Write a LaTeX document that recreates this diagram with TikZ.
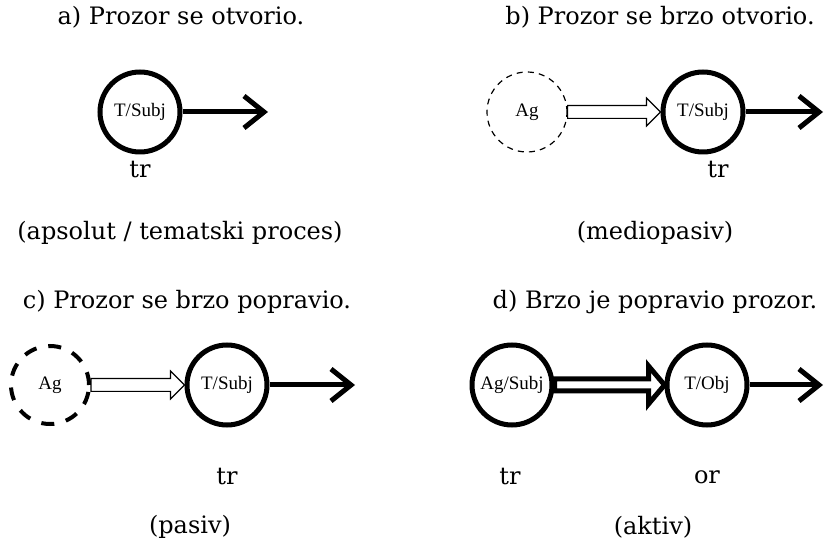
\documentclass[tikz,border=0pt]{standalone}
\usepackage{fontspec}
\setmainfont{DejaVu Serif}
\newfontfamily\rolefont{Liberation Serif}
\usetikzlibrary{arrows.meta,calc}

\tikzset{
  role/.style={circle, draw=black, line width=2.5pt, minimum size=40pt, inner sep=0pt,
    font=\rolefont\fontsize{9.5}{10}\selectfont},
  ghost/.style={circle, draw=black, line width=0.6pt, dash pattern=on 3pt off 2.6pt,
    minimum size=40pt, inner sep=0pt, font=\rolefont\fontsize{9.5}{10}\selectfont},
  ghostbold/.style={ghost, line width=2pt, dash pattern=on 6.5pt off 6pt, minimum size=39pt},
  process/.style={line width=2.5pt, -{Straight Barb[length=10pt,width=16pt]}},
  sentence/.style={font=\fontsize{12}{14}\selectfont},
  gloss/.style={font=\fontsize{12}{14}\selectfont},
}

% hollow arrow between two nodes: [style]{from}{to}{shaft}{head width}{head length}
\newcommand{\openarrow}[6][]{%
  \draw[#1] ($(#2.east)+(0,#4)$) -- ($(#3.west)+(-#6,#4)$) -- ($(#3.west)+(-#6,#5)$)
    -- (#3.west) -- ($(#3.west)+(-#6,-#5)$) -- ($(#3.west)+(-#6,-#4)$)
    -- ($(#2.east)+(0,-#4)$) -- cycle;}

\begin{document}
\begin{tikzpicture}[x=0.5pt, y=-0.5pt]
    \useasboundingbox (0,0) rectangle (824,544);

    % a) absolute process
    \node[sentence] (sa) at (181,17) {a) Prozor se otvorio.};
    \node[role] (ta) at (140,112) {T/Subj};
    \coordinate (ea) at (268,112);
    \draw[process] (ta) -- (ea);
    \node[gloss] (tra) at (140,170) {tr};
    \node[gloss] (ca) at (180,233) {(apsolut / tematski proces)};

    % b) middle passive
    \node[sentence] (sb) at (660,17) {b) Prozor se brzo otvorio.};
    \node[ghost] (agb) at (527,112) {Ag};
    \node[role] (tb) at (703,112) {T/Subj};
    \coordinate (eb) at (823,112);
    \openarrow[line width=0.6pt, fill=white]{agb}{tb}{3.2pt}{7pt}{7pt}
    \draw[process] (tb) -- (eb);
    \node[gloss] (trb) at (718,170) {tr};
    \node[gloss] (cb) at (655,233) {(mediopasiv)};

    % c) passive
    \node[sentence] (sc) at (187,302) {c) Prozor se brzo popravio.};
    \node[ghostbold] (agc) at (50,385) {Ag};
    \node[role] (tc) at (227,385) {T/Subj};
    \coordinate (ec) at (355,385);
    \openarrow[line width=0.6pt, fill=white]{agc}{tc}{3.2pt}{7pt}{7pt}
    \draw[process] (tc) -- (ec);
    \node[gloss] (trc) at (227,477) {tr};
    \node[gloss] (cc) at (190,527) {(pasiv)};

    % d) active
    \node[sentence] (sd) at (655,302) {d) Brzo je popravio prozor.};
    \node[role] (agd) at (512,385) {Ag/Subj};
    \node[role] (td) at (707,385) {T/Obj};
    \coordinate (ed) at (823,385);
    \openarrow[line width=2.5pt, fill=white, line join=miter]{agd}{td}{3pt}{9.5pt}{8pt}
    \draw[process] (td) -- (ed);
    \node[gloss] (trd) at (510,477) {tr};
    \node[gloss] (ord) at (707,477) {or};
    \node[gloss] (cd) at (653,527) {(aktiv)};
\end{tikzpicture}
\end{document}
